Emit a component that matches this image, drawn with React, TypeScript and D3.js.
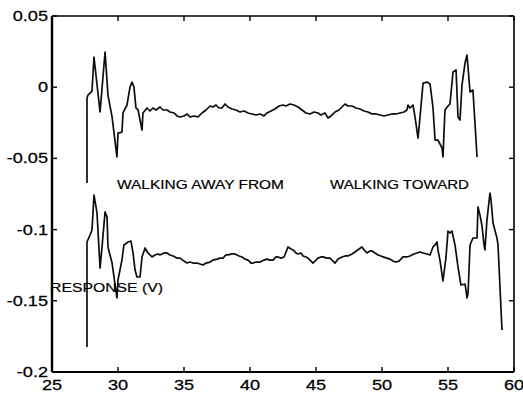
import React from "react";
import * as d3 from "d3";

// x positions and values for the upper trace (walking away)
const topX = [
  27.65, 27.65, 27.73, 28.03, 28.18, 28.64, 29.02, 29.24, 29.55, 29.92, 30.0, 30.3, 30.38, 30.68, 30.91, 31.06,
  31.21, 31.36, 31.52, 31.82, 31.89, 32.2, 32.42, 32.65, 32.88, 33.18, 33.41, 33.71, 33.94, 34.24, 34.47, 34.7,
  35.0, 35.23, 35.45, 35.76, 36.06, 36.36, 36.67, 36.97, 37.2, 37.42, 37.65, 37.88, 38.11, 38.33, 38.64, 38.94,
  39.24, 39.55, 39.85, 40.15, 40.45, 40.76, 41.06, 41.29, 41.59, 41.89, 42.2, 42.5, 42.73, 43.03, 43.33, 43.64,
  43.94, 44.24, 44.55, 44.85, 45.15, 45.38, 45.68, 45.91, 46.14, 46.44, 46.74, 46.97, 47.2, 47.42, 47.73, 48.03,
  48.33, 48.64, 48.94, 49.24, 49.55, 49.85, 50.15, 50.45, 50.76, 51.06, 51.36, 51.67, 51.89, 51.97, 52.12, 52.35,
  52.5, 52.73, 52.88, 53.11, 53.41, 53.64, 53.86, 54.02, 54.24, 54.55, 54.62, 54.77, 55.0, 55.15, 55.38, 55.61,
  55.76, 55.91, 56.06, 56.29, 56.44, 56.67, 56.89, 57.2,
];
const topY = [
  -0.0673, -0.0076, -0.0055, -0.0027, 0.0212, -0.0174, 0.0247, -0.0055, -0.0209, -0.049, -0.0322, -0.0315,
  -0.0181, -0.0125, 0.0001, 0.0036, 0.0001, -0.0146, -0.016, -0.0301, -0.0181, -0.0146, -0.0167, -0.0146,
  -0.016, -0.0139, -0.016, -0.016, -0.0174, -0.0181, -0.0202, -0.0209, -0.0202, -0.0188, -0.0209, -0.0202,
  -0.0209, -0.0181, -0.016, -0.0132, -0.0139, -0.0125, -0.0146, -0.0146, -0.0118, -0.0139, -0.0153, -0.016,
  -0.0174, -0.0167, -0.0181, -0.0188, -0.0195, -0.0188, -0.0202, -0.0181, -0.0167, -0.0153, -0.0132, -0.0125,
  -0.0132, -0.0118, -0.0125, -0.0139, -0.016, -0.0181, -0.0188, -0.0174, -0.0181, -0.0195, -0.0181, -0.0216,
  -0.0202, -0.0174, -0.016, -0.0139, -0.0118, -0.0132, -0.0132, -0.0146, -0.0153, -0.0167, -0.0174, -0.0188,
  -0.0188, -0.0195, -0.0202, -0.0195, -0.0188, -0.0188, -0.0181, -0.0174, -0.016, -0.0125, -0.0146, -0.0125,
  -0.0209, -0.0357, -0.0209, 0.0029, 0.0036, 0.0022, -0.0139, -0.0371, -0.0371, -0.0427, -0.049, -0.016,
  -0.0132, -0.0118, 0.0107, 0.0121, -0.0209, -0.023, 0.0015, 0.017, 0.0226, -0.0034, -0.002, -0.049,
];

// x positions and values for the lower trace (walking toward)
const botX = [
  27.65, 27.65, 27.88, 28.03, 28.18, 28.41, 28.64, 28.79, 29.02, 29.17, 29.24, 29.55, 29.92, 30.0, 30.3, 30.45,
  30.76, 30.98, 31.14, 31.29, 31.44, 31.67, 31.82, 32.05, 32.27, 32.58, 32.8, 33.03, 33.18, 33.48, 33.71, 33.94,
  34.17, 34.47, 34.7, 35.0, 35.23, 35.45, 35.68, 35.98, 36.21, 36.44, 36.67, 36.97, 37.2, 37.5, 37.73, 37.95,
  38.18, 38.33, 38.64, 38.86, 39.17, 39.39, 39.62, 39.85, 40.08, 40.23, 40.45, 40.76, 41.06, 41.29, 41.52, 41.74,
  41.97, 42.12, 42.35, 42.58, 42.73, 42.88, 43.11, 43.26, 43.48, 43.64, 43.86, 44.02, 44.24, 44.39, 44.62, 44.77,
  45.0, 45.15, 45.38, 45.53, 45.83, 46.06, 46.29, 46.44, 46.67, 46.97, 47.2, 47.42, 47.73, 47.95, 48.26, 48.48,
  48.71, 48.86, 49.09, 49.24, 49.47, 49.7, 49.92, 50.08, 50.38, 50.61, 50.83, 51.06, 51.29, 51.59, 51.89, 52.12,
  52.42, 52.65, 52.88, 53.11, 53.41, 53.64, 53.86, 54.02, 54.17, 54.24, 54.39, 54.62, 54.85, 55.0, 55.15, 55.3,
  55.53, 55.76, 55.98, 56.29, 56.36, 56.44, 56.52, 56.67, 56.89, 57.2, 57.27, 57.42, 57.58, 57.73, 57.8, 57.95,
  58.18, 58.26, 58.41, 58.71, 58.79, 59.09,
];
const botY = [
  -0.1824, -0.1087, -0.1038, -0.1003, -0.0757, -0.0883, -0.127, -0.1122, -0.0876, -0.0912, -0.1122, -0.1235,
  -0.148, -0.1354, -0.1213, -0.1108, -0.1087, -0.108, -0.1164, -0.1284, -0.1333, -0.1333, -0.1192, -0.1129,
  -0.1164, -0.1192, -0.1178, -0.1171, -0.1178, -0.1164, -0.1164, -0.1178, -0.1185, -0.12, -0.12, -0.1221,
  -0.1235, -0.1228, -0.1235, -0.1235, -0.1242, -0.1249, -0.1235, -0.1228, -0.1214, -0.1207, -0.12, -0.12,
  -0.1178, -0.1178, -0.1171, -0.1171, -0.1185, -0.1192, -0.1207, -0.1214, -0.1235, -0.1235, -0.1228, -0.1228,
  -0.1214, -0.1207, -0.1214, -0.1214, -0.1192, -0.1192, -0.12, -0.1192, -0.1157, -0.1122, -0.1136, -0.1143,
  -0.1164, -0.1171, -0.1164, -0.1185, -0.1192, -0.12, -0.1221, -0.1235, -0.1214, -0.12, -0.1192, -0.1192,
  -0.12, -0.12, -0.1221, -0.1235, -0.1207, -0.1192, -0.1185, -0.1185, -0.1171, -0.1157, -0.1136, -0.1122,
  -0.115, -0.1164, -0.115, -0.115, -0.1164, -0.1178, -0.1185, -0.1192, -0.12, -0.1207, -0.1221, -0.1228,
  -0.1221, -0.1192, -0.1192, -0.1185, -0.1171, -0.1164, -0.1157, -0.1164, -0.1171, -0.1178, -0.1122, -0.1108,
  -0.1087, -0.1143, -0.1214, -0.1361, -0.1192, -0.101, -0.1024, -0.101, -0.1108, -0.1263, -0.1389, -0.1382,
  -0.1424, -0.148, -0.1445, -0.1108, -0.1059, -0.1059, -0.0841, -0.0897, -0.0975, -0.1108, -0.1143, -0.0933,
  -0.0743, -0.0792, -0.0954, -0.1059, -0.1108, -0.1705,
];

const xTicks = [25, 30, 35, 40, 45, 50, 55, 60];
const yTicks = [0.05, 0, -0.05, -0.1, -0.15, -0.2];
const yTickLabels = ["0.05", "0", "-0.05", "-0.1", "-0.15", "-0.2"];

const W = 523;
const H = 393;
const left = 52;
const right = 514;
const top = 16;
const bottom = 372;
const font = "Liberation Sans, Arial, Helvetica, sans-serif";

export default function App() {
  const x = d3.scaleLinear().domain([25, 60]).range([left, right]);
  const y = d3.scaleLinear().domain([-0.2, 0.05]).range([bottom, top]);

  const makePath = (xs: number[], ys: number[]) =>
    d3
      .line<number>()
      .x((d) => x(d))
      .y((_, i) => y(ys[i]))(xs) || "";

  return (
    <svg
      width={W}
      height={H}
      style={{ position: "absolute", left: 0, top: 0, background: "#fff" }}
    >
      <rect x={0} y={0} width={W} height={H} fill="#fff" />

      {/* traces */}
      <path d={makePath(topX, topY)} fill="none" stroke="#0d0d0d" strokeWidth={1.7} strokeLinejoin="round" />
      <path d={makePath(botX, botY)} fill="none" stroke="#0d0d0d" strokeWidth={1.7} strokeLinejoin="round" />

      {/* frame */}
      <line x1={left} x2={right} y1={top} y2={top} stroke="#000" strokeWidth={1.3} />
      <line x1={right} x2={right} y1={top} y2={bottom} stroke="#000" strokeWidth={1.6} />
      <line x1={left} x2={right} y1={bottom} y2={bottom} stroke="#000" strokeWidth={2} />
      <line x1={left} x2={left} y1={top} y2={bottom} stroke="#000" strokeWidth={2.4} />

      {/* ticks */}
      {xTicks.map((t) => (
        <g key={"x" + t}>
          <line x1={x(t)} x2={x(t)} y1={bottom} y2={bottom - 5} stroke="#000" strokeWidth={1.4} />
          <line x1={x(t)} x2={x(t)} y1={top} y2={top + 5} stroke="#000" strokeWidth={1.4} />
          <text
            transform={`translate(${x(t)},${bottom + 18}) scale(1.25,1)`}
            textAnchor="middle"
            fontFamily={font}
            fontSize={14.5}
            fill="#000"
            stroke="#000"
            strokeWidth={0.25}
          >
            {t}
          </text>
        </g>
      ))}
      {yTicks.map((t, i) => (
        <g key={"y" + t}>
          <line x1={left} x2={left + 5} y1={y(t)} y2={y(t)} stroke="#000" strokeWidth={1.4} />
          <line x1={right} x2={right - 5} y1={y(t)} y2={y(t)} stroke="#000" strokeWidth={1.4} />
          <text
            transform={`translate(${left - 4},${y(t) + 5}) scale(1.25,1)`}
            textAnchor="end"
            fontFamily={font}
            fontSize={14.5}
            fill="#000"
            stroke="#000"
            strokeWidth={0.25}
          >
            {yTickLabels[i]}
          </text>
        </g>
      ))}

      {/* annotations */}
      <text x={117} y={189} fontFamily={font} fontSize={13.5} fill="#000" stroke="#000" strokeWidth={0.2} textLength={167} lengthAdjust="spacingAndGlyphs">
        WALKING AWAY FROM
      </text>
      <text x={330} y={189} fontFamily={font} fontSize={13.5} fill="#000" stroke="#000" strokeWidth={0.2} textLength={139} lengthAdjust="spacingAndGlyphs">
        WALKING TOWARD
      </text>
      <text x={50} y={292} fontFamily={font} fontSize={13.5} fill="#000" stroke="#000" strokeWidth={0.2} textLength={113} lengthAdjust="spacingAndGlyphs">
        RESPONSE (V)
      </text>
    </svg>
  );
}
